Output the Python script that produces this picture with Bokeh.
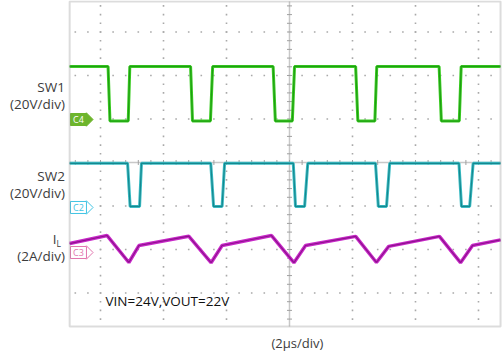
import numpy as np
from bokeh.plotting import figure
from bokeh.models import Range1d, Label, BoxAnnotation
from bokeh.embed import file_html
from bokeh.resources import INLINE

# ---- data (time in microseconds, 2 us/div, 0 = screen centre) ----
sw1_t = [-6.98, -5.76, -5.70, -5.12, -5.07, -3.14, -3.08, -2.51, -2.44, -0.52, -0.45,
         0.09, 0.16, 2.10, 2.17, 2.71, 2.77, 4.75, 4.82, 5.39, 5.45, 6.70]
sw1_v = [24.4, 24.4, -0.7, -0.7, 24.4, 24.4, -0.7, -0.7, 24.4, 24.4, -0.7,
         -0.7, 24.4, 24.4, -0.7, -0.7, 24.4, 24.4, -0.7, -0.7, 24.4, 24.4]

sw2_t = [-6.98, -5.14, -5.06, -4.76, -4.70, -2.50, -2.41, -2.14, -2.06, 0.12, 0.19,
         0.48, 0.58, 2.73, 2.82, 3.08, 3.18, 5.38, 5.46, 5.72, 5.83, 6.70]
sw2_v = [20.3, 20.3, 0.5, 0.5, 20.3, 20.3, 0.5, 0.5, 20.3, 20.3, 0.5,
         0.5, 20.3, 20.3, 0.5, 0.5, 20.3, 20.3, 0.5, 0.5, 20.3, 20.3]

il_t = [-6.98, -5.79, -5.10, -4.78, -3.20, -2.49, -2.14, -0.57, 0.14, 0.51,
        2.10, 2.76, 3.15, 4.76, 5.43, 5.81, 6.70]
il_a = [0.41, 0.78, -0.46, 0.32, 0.75, -0.47, 0.32, 0.78, -0.47, 0.32,
        0.74, -0.46, 0.28, 0.74, -0.47, 0.32, 0.58]

channel_names = ["SW1", "SW2", "I"]
channel_scales = ["(20V/div)", "(20V/div)", "(2A/div)"]
badge_names = ["C4", "C2", "C3"]
note_text = "VIN=24V,VOUT=22V"
time_label = "(2\u03bcs/div)"

# ---- screen layout ----
X0, X1 = -9.175, 6.794        # whole canvas, time units (us)
Y0, Y1 = -4.506, 3.724        # whole canvas, divisions
T0, T1 = -6.98, 6.70          # scope window (us)
D0, D1 = -3.77, 3.70          # scope window (div)
ground = {"sw1": 0.988, "sw2": -1.034, "il": -2.069}   # channel ground (div)
per_div = {"sw1": 20.0, "sw2": 20.0, "il": 2.0}

p = figure(width=503, height=358, output_backend="svg", toolbar_location=None,
           x_range=Range1d(X0, X1), y_range=Range1d(Y0, Y1),
           x_axis_type=None, y_axis_type=None,
           min_border_left=0, min_border_right=0, min_border_top=0, min_border_bottom=0)
p.grid.visible = False
p.background_fill_color = "white"
p.border_fill_color = "white"
p.outline_line_color = None

for k in ground:
    g, s = ground[k], per_div[k]
    p.extra_y_ranges[k] = Range1d((Y0 - g) * s, (Y1 - g) * s)

# ---- graticule ----
grid_col_t = [-6, -4, -2, 2, 4, 6]
grid_row_d = [-3, -2, -1, 1, 2, 3]
minor_d = np.round(np.arange(-3.6, 3.61, 0.2), 2)
minor_t = np.round(np.arange(-6.8, 6.61, 0.4), 2)
gx, gy = [], []
for t in grid_col_t:
    gx += [t] * len(minor_d); gy += list(minor_d)
for d in grid_row_d:
    gx += list(minor_t); gy += [d] * len(minor_t)
p.scatter(gx, gy, marker="square", size=1.6, color="#a9a9a9", line_width=0)

p.segment([0, T0], [D0, 0], [0, T1], [D1, 0], line_color="#c8c8c8", line_width=1.5)
p.scatter([0] * len(minor_d), minor_d, marker="dash", size=5, line_color="#a0a0a0", line_width=1)
p.scatter(minor_t, [0] * len(minor_t), marker="dash", angle=np.pi / 2, size=5,
          line_color="#a0a0a0", line_width=1)

# ---- traces ----
p.line(sw2_t, sw2_v, y_range_name="sw2", line_color="#3cbcc4", line_width=3)
p.line(sw2_t, sw2_v, y_range_name="sw2", line_color="#14888f", line_width=1.2)
p.line(sw1_t, sw1_v, y_range_name="sw1", line_color="#3ccc24", line_width=3)
p.line(sw1_t, sw1_v, y_range_name="sw1", line_color="#1e9e12", line_width=1.2)
p.line(il_t, il_a, y_range_name="il", line_color="#c828c8", line_width=3.5)
p.line(il_t, il_a, y_range_name="il", line_color="#8e128e", line_width=1.2)

# scope border
p.add_layout(BoxAnnotation(left=T0, right=T1, bottom=D0, top=D1, fill_alpha=0,
                           line_color="#8c8c8c", line_width=2))

# ---- channel ground badges ----
badge_t, tip_t = -6.70, -6.45
badge_style = [("sw1", "#6db52c", "#6db52c", "white"),
               ("sw2", "white", "#40c4e4", "#40c4e4"),
               ("il", "white", "#e276ae", "#e276ae")]
for (rng, fill, line, txt), name in zip(badge_style, badge_names):
    p.scatter([tip_t], [0], y_range_name=rng, marker="square", angle=np.pi / 4, size=9.5,
              fill_color=fill, line_color=line, line_width=1)
    p.rect([badge_t], [0], width=16, height=12, width_units="screen", height_units="screen",
           y_range_name=rng, fill_color=fill, line_color=line, line_width=1)
    p.add_layout(Label(x=badge_t, y=0, y_range_name=rng, text=name, text_font="Open Sans",
                       text_font_size="9px", text_color=txt, text_align="center",
                       text_baseline="middle"))

# ---- texts ----
lab_t = -7.13
name_y = [1.724, -0.322, -1.763]
scale_y = [1.356, -0.690, -2.161]
for n, ny in zip(channel_names, name_y):
    tt = lab_t if n != "I" else -7.40
    p.add_layout(Label(x=tt, y=ny, text=n, text_font="Open Sans", text_font_size="13.5px",
                       text_color="#3c3c3c", text_align="right", text_baseline="middle"))
p.add_layout(Label(x=-7.40, y=-1.87, text="L", text_font="Open Sans", text_font_size="8.5px",
                   text_color="#3c3c3c", text_align="left", text_baseline="middle"))
for sc, sy in zip(channel_scales, scale_y):
    p.add_layout(Label(x=lab_t, y=sy, text=sc, text_font="Open Sans", text_font_size="13.5px",
                       text_color="#3c3c3c", text_align="right", text_baseline="middle"))

p.add_layout(Label(x=-5.84, y=-3.195, text=note_text, text_font="Open Sans",
                   text_font_size="13.5px", text_color="#101010", text_align="left",
                   text_baseline="middle"))
p.add_layout(Label(x=0.25, y=-4.14, text=time_label, text_font="Open Sans",
                   text_font_size="13px", text_color="#3c3c3c", text_align="center",
                   text_baseline="middle"))

open("out.html", "w").write(file_html(p, INLINE))
